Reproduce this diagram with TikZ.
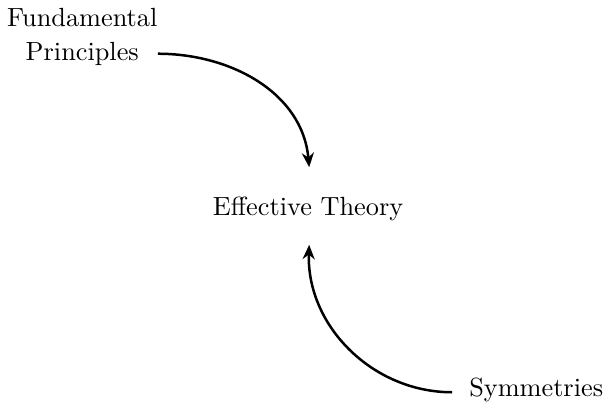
\documentclass[tikz,border=0pt]{standalone}
\usetikzlibrary{positioning, arrows.meta}

\begin{document}
\begin{tikzpicture}[
  concept/.style={
    align=center,
    inner sep=3pt
  },
  flow/.style={
    -{Stealth[length=5.5pt, width=4.6pt]},
    line width=0.95pt
  }
]

\useasboundingbox (0,0) rectangle (8.09,5.45);

\node[concept] (fp) at (1.10,4.96) {Fundamental\\[1pt]Principles};
\node[concept] (eff) at (4.12,2.66) {Effective Theory};
\node[concept] (sym) at (7.17,0.24) {Symmetries};

\draw[flow] ([xshift=-3pt,yshift=-6.5pt]fp.east)
  to[out=0, in=95] ([xshift=0.4pt,yshift=8pt]eff.north);
\draw[flow] ([xshift=-3.3pt,yshift=-1pt]sym.west)
  to[out=180, in=-92] ([xshift=0.4pt,yshift=-6pt]eff.south);

\end{tikzpicture}
\end{document}
